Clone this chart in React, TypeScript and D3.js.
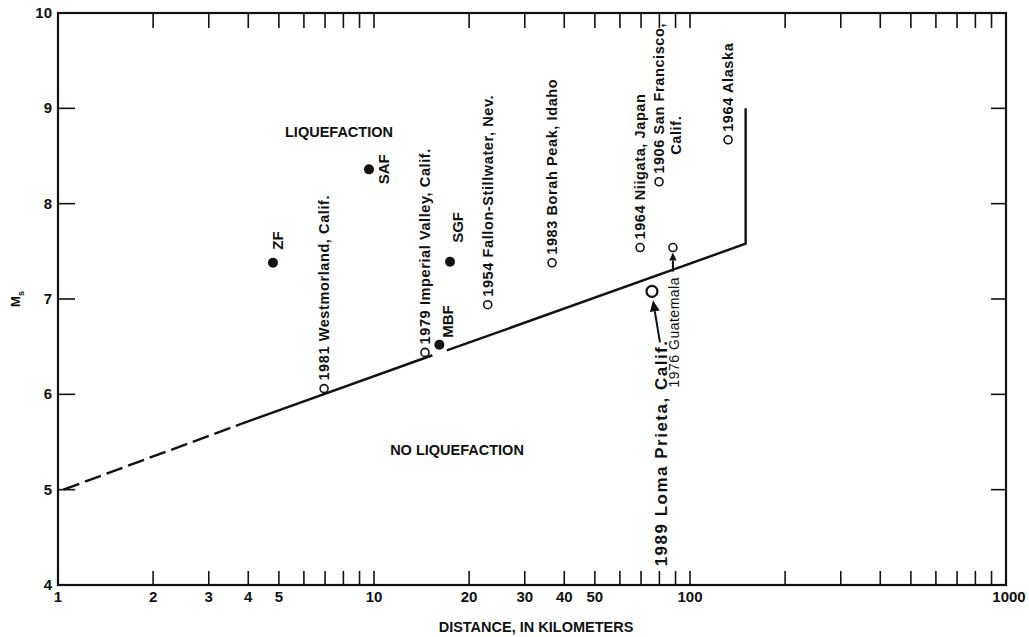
import React from "react";
import * as d3 from "d3";

// ---- Data ----
const xTickValues = [1, 2, 3, 4, 5, 10, 20, 30, 40, 50, 100, 1000];
const yTickValues = [4, 5, 6, 7, 8, 9, 10];

const eventNames = [
  "1981 Westmorland, Calif.",
  "1979 Imperial Valley, Calif.",
  "1954 Fallon-Stillwater, Nev.",
  "1983 Borah Peak, Idaho",
  "1964 Niigata, Japan",
  "1906 San Francisco,",
  "1976 Guatemala",
  "1964 Alaska",
];
const eventDistances = [6.95, 14.5, 22.9, 36.6, 69.5, 79.8, 88.3, 132];
const eventMagnitudes = [6.06, 6.44, 6.94, 7.38, 7.54, 8.23, 7.54, 8.67];

const faultNames = ["ZF", "SAF", "SGF", "MBF"];
const faultDistances = [4.79, 9.64, 17.4, 16.1];
const faultMagnitudes = [7.38, 8.36, 7.39, 6.52];

const lomaName = "1989 Loma Prieta, Calif.";
const lomaDistance = 75.8;
const lomaMagnitude = 7.08;

const boundaryDistances = [1.04, 3.8, 15.3, 17.0, 150, 150];
const boundaryMagnitudes = [5.0, 5.69, 6.41, 6.46, 7.58, 9.0];

// ---- Layout ----
const W = 1029;
const H = 637;
const L = 58, R = 1006, T = 13, B = 585;
const FONT = "'Liberation Sans', Arial, Helvetica, sans-serif";

export default function App() {
  const x = d3.scaleLog().domain([1, 1000]).range([L, R]);
  const y = d3.scaleLinear().domain([4, 10]).range([B, T]);

  const minorTicks: number[] = [];
  for (let dec = 1; dec < 1000; dec *= 10) {
    for (let k = 2; k <= 9; k++) minorTicks.push(dec * k);
  }
  minorTicks.push(10, 100);

  const pts = boundaryDistances.map((d, i) => [d, boundaryMagnitudes[i]] as [number, number]);
  const line = d3.line<[number, number]>().x((p) => x(p[0])).y((p) => y(p[1]));

  const labelStyle = { fontFamily: FONT, fontWeight: 700, fontSize: 14.5, letterSpacing: 0.6, fill: "#111" } as const;

  const faultLabelPos: Record<string, [number, number]> = {
    ZF: [5, -13],
    SAF: [15, 15],
    SGF: [8, -19],
    MBF: [8, -7],
  };

  const arrow = (x1: number, y1: number, x2: number, y2: number, size: number) => {
    const a = Math.atan2(y2 - y1, x2 - x1);
    const bx = x2 - size * Math.cos(a);
    const by = y2 - size * Math.sin(a);
    const px = -Math.sin(a) * size * 0.45;
    const py = Math.cos(a) * size * 0.45;
    return (
      <g>
        <line x1={x1} y1={y1} x2={bx} y2={by} stroke="#111" strokeWidth={2} />
        <path d={`M${x2},${y2}L${bx + px},${by + py}L${bx - px},${by - py}Z`} fill="#111" />
      </g>
    );
  };

  const tickFont = { fontFamily: FONT, fontWeight: 700, fontSize: 15, fill: "#111" } as const;

  return (
    <svg width={W} height={H} style={{ position: "absolute", left: 0, top: 0, background: "#fff" }}>
      {/* frame */}
      <rect x={L} y={T} width={R - L} height={B - T} fill="none" stroke="#111" strokeWidth={2.2} />

      {/* x ticks bottom and top */}
      {minorTicks.map((t, i) => (
        <g key={"xt" + i}>
          <line x1={x(t)} x2={x(t)} y1={B} y2={B - 14} stroke="#111" strokeWidth={1.6} />
          <line x1={x(t)} x2={x(t)} y1={T} y2={T + 15} stroke="#111" strokeWidth={1.6} />
        </g>
      ))}
      {/* y ticks */}
      {yTickValues.slice(1, -1).map((t) => (
        <g key={"yt" + t}>
          <line x1={L} x2={L + 17} y1={y(t)} y2={y(t)} stroke="#111" strokeWidth={1.6} />
          <line x1={R} x2={R - 15} y1={y(t)} y2={y(t)} stroke="#111" strokeWidth={1.6} />
        </g>
      ))}

      {/* tick labels */}
      {xTickValues.map((t) => (
        <text key={"xl" + t} x={x(t) + (t === 1000 ? 3 : 0)} y={602} textAnchor="middle" style={tickFont}>
          {t}
        </text>
      ))}
      {yTickValues.map((t) => (
        <text key={"yl" + t} x={52} y={y(t) + 5} textAnchor="end" style={tickFont}>
          {t}
        </text>
      ))}

      {/* axis titles */}
      <text x={536} y={632} textAnchor="middle" style={{ fontFamily: FONT, fontWeight: 700, fontSize: 14.5, fill: "#111" }}>
        DISTANCE, IN KILOMETERS
      </text>
      <text transform={`translate(20,${y(7)}) rotate(-90)`} textAnchor="middle" style={{ fontFamily: FONT, fontWeight: 700, fontSize: 13, fill: "#111" }}>
        M<tspan dy={4} fontSize={9}>s</tspan>
      </text>

      {/* region labels */}
      <text x={339} y={137} textAnchor="middle" style={{ fontFamily: FONT, fontWeight: 700, fontSize: 14.5, fill: "#111" }}>
        LIQUEFACTION
      </text>
      <text x={457} y={455} textAnchor="middle" style={{ fontFamily: FONT, fontWeight: 700, fontSize: 14.5, fill: "#111" }}>
        NO LIQUEFACTION
      </text>

      {/* boundary line */}
      <path d={line(pts.slice(0, 2)) || ""} fill="none" stroke="#111" strokeWidth={2.4} strokeDasharray="17,6" />
      <path d={line(pts.slice(1, 3)) || ""} fill="none" stroke="#111" strokeWidth={2.4} />
      <path d={line(pts.slice(3)) || ""} fill="none" stroke="#111" strokeWidth={2.4} />

      {/* open circle events */}
      {eventNames.map((name, i) => {
        const cx = x(eventDistances[i]);
        const cy = y(eventMagnitudes[i]);
        const isGuat = name === "1976 Guatemala";
        const ly = isGuat ? cy + 140 : cy - 8;
        const style = isGuat ? { ...labelStyle, fontWeight: 400, fontSize: 14, letterSpacing: 0.5 } : labelStyle;
        return (
          <g key={name}>
            <circle cx={cx} cy={cy} r={4} fill="#fff" stroke="#111" strokeWidth={1.6} />
            <text transform={`translate(${cx + (isGuat ? 1 : 0)},${ly}) rotate(-90)`} dy="0.36em" textAnchor="start" style={style}>
              {name}
            </text>
            {name === "1906 San Francisco," && (
              <text transform={`translate(${cx + 17},${cy - 27}) rotate(-90)`} dy="0.36em" textAnchor="start" style={labelStyle}>
                Calif.
              </text>
            )}
            {isGuat && arrow(cx, cy + 24, cx, cy + 5, 8)}
          </g>
        );
      })}

      {/* Loma Prieta */}
      {(() => {
        const cx = x(lomaDistance);
        const cy = y(lomaMagnitude);
        return (
          <g>
            <circle cx={cx} cy={cy} r={5.5} fill="#fff" stroke="#111" strokeWidth={2.2} />
            {arrow(cx + 8, cy + 51, cx + 1, cy + 9, 11)}
            <text transform={`translate(${cx + 9},${cy + 275}) rotate(-90)`} dy="0.36em" textAnchor="start" style={{ fontFamily: FONT, fontWeight: 700, fontSize: 17, letterSpacing: 1.5, fill: "#111" }}>
              {lomaName}
            </text>
          </g>
        );
      })()}

      {/* faults */}
      {faultNames.map((name, i) => {
        const cx = x(faultDistances[i]);
        const cy = y(faultMagnitudes[i]);
        const [dx, dy] = faultLabelPos[name];
        return (
          <g key={name}>
            <circle cx={cx} cy={cy} r={5} fill="#111" />
            <text transform={`translate(${cx + dx},${cy + dy}) rotate(-90)`} dy="0.36em" textAnchor="start" style={{ fontFamily: FONT, fontWeight: 700, fontSize: 15, fill: "#111" }}>
              {name}
            </text>
          </g>
        );
      })}
    </svg>
  );
}
